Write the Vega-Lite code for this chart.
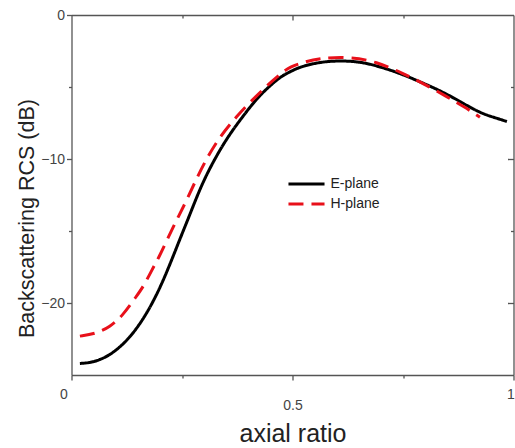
{
  "$schema": "https://vega.github.io/schema/vega-lite/v6.json",
  "width": 442,
  "height": 360,
  "autosize": {"type": "none"},
  "padding": {"left": 71.5, "top": 15, "right": 1.5, "bottom": 73},
  "background": "white",
  "config": {
    "view": {"stroke": null},
    "axis": {
      "domainColor": "#555555",
      "tickColor": "#555555",
      "tickWidth": 1.3,
      "domainWidth": 1.3,
      "labelColor": "#444444",
      "labelFont": "Liberation Sans",
      "titleFont": "Liberation Sans",
      "labelFontSize": 14,
      "grid": false,
      "titleFontWeight": "normal",
      "titleColor": "#222222"
    }
  },
  "data": {
    "values": [
      {"x": 0.019, "rcs": -24.2, "plane": "E-plane"},
      {"x": 0.042, "rcs": -24.15, "plane": "E-plane"},
      {"x": 0.064, "rcs": -23.95, "plane": "E-plane"},
      {"x": 0.087, "rcs": -23.6, "plane": "E-plane"},
      {"x": 0.11, "rcs": -23.05, "plane": "E-plane"},
      {"x": 0.133, "rcs": -22.35, "plane": "E-plane"},
      {"x": 0.156, "rcs": -21.4, "plane": "E-plane"},
      {"x": 0.178, "rcs": -20.3, "plane": "E-plane"},
      {"x": 0.201, "rcs": -18.9, "plane": "E-plane"},
      {"x": 0.223, "rcs": -17.3, "plane": "E-plane"},
      {"x": 0.246, "rcs": -15.5, "plane": "E-plane"},
      {"x": 0.266, "rcs": -14.0, "plane": "E-plane"},
      {"x": 0.285, "rcs": -12.5, "plane": "E-plane"},
      {"x": 0.308, "rcs": -10.9, "plane": "E-plane"},
      {"x": 0.346, "rcs": -8.8, "plane": "E-plane"},
      {"x": 0.381, "rcs": -7.3, "plane": "E-plane"},
      {"x": 0.419, "rcs": -5.8, "plane": "E-plane"},
      {"x": 0.446, "rcs": -5.0, "plane": "E-plane"},
      {"x": 0.472, "rcs": -4.3, "plane": "E-plane"},
      {"x": 0.494, "rcs": -3.95, "plane": "E-plane"},
      {"x": 0.517, "rcs": -3.6, "plane": "E-plane"},
      {"x": 0.562, "rcs": -3.26, "plane": "E-plane"},
      {"x": 0.607, "rcs": -3.17, "plane": "E-plane"},
      {"x": 0.653, "rcs": -3.24, "plane": "E-plane"},
      {"x": 0.698, "rcs": -3.59, "plane": "E-plane"},
      {"x": 0.743, "rcs": -4.05, "plane": "E-plane"},
      {"x": 0.788, "rcs": -4.63, "plane": "E-plane"},
      {"x": 0.834, "rcs": -5.25, "plane": "E-plane"},
      {"x": 0.879, "rcs": -6.0, "plane": "E-plane"},
      {"x": 0.924, "rcs": -6.8, "plane": "E-plane"},
      {"x": 0.955, "rcs": -7.1, "plane": "E-plane"},
      {"x": 0.985, "rcs": -7.4, "plane": "E-plane"},
      {"x": 0.019, "rcs": -22.3, "plane": "H-plane"},
      {"x": 0.053, "rcs": -22.15, "plane": "H-plane"},
      {"x": 0.087, "rcs": -21.67, "plane": "H-plane"},
      {"x": 0.117, "rcs": -20.83, "plane": "H-plane"},
      {"x": 0.144, "rcs": -19.65, "plane": "H-plane"},
      {"x": 0.162, "rcs": -18.9, "plane": "H-plane"},
      {"x": 0.182, "rcs": -17.7, "plane": "H-plane"},
      {"x": 0.2, "rcs": -16.7, "plane": "H-plane"},
      {"x": 0.218, "rcs": -15.5, "plane": "H-plane"},
      {"x": 0.24, "rcs": -14.1, "plane": "H-plane"},
      {"x": 0.261, "rcs": -12.85, "plane": "H-plane"},
      {"x": 0.291, "rcs": -10.8, "plane": "H-plane"},
      {"x": 0.329, "rcs": -8.7, "plane": "H-plane"},
      {"x": 0.374, "rcs": -7.0, "plane": "H-plane"},
      {"x": 0.419, "rcs": -5.6, "plane": "H-plane"},
      {"x": 0.446, "rcs": -4.8, "plane": "H-plane"},
      {"x": 0.472, "rcs": -4.1, "plane": "H-plane"},
      {"x": 0.494, "rcs": -3.6, "plane": "H-plane"},
      {"x": 0.528, "rcs": -3.25, "plane": "H-plane"},
      {"x": 0.562, "rcs": -3.0, "plane": "H-plane"},
      {"x": 0.63, "rcs": -2.9, "plane": "H-plane"},
      {"x": 0.69, "rcs": -3.24, "plane": "H-plane"},
      {"x": 0.75, "rcs": -4.05, "plane": "H-plane"},
      {"x": 0.795, "rcs": -4.74, "plane": "H-plane"},
      {"x": 0.849, "rcs": -5.67, "plane": "H-plane"},
      {"x": 0.89, "rcs": -6.4, "plane": "H-plane"},
      {"x": 0.924, "rcs": -7.1, "plane": "H-plane"}
    ]
  },
  "layer": [
    {
      "mark": {"type": "line", "strokeWidth": 3, "interpolate": "basis"},
      "encoding": {
        "x": {
          "field": "x", "type": "quantitative",
          "scale": {"domain": [0, 1], "nice": false},
          "axis": {
            "orient": "bottom",
            "title": "axial ratio",
            "titleFontSize": 25,
            "titleX": 221,
            "titleY": 58,
            "titleBaseline": "middle",
            "values": [0, 0.25, 0.5, 0.75, 1],
            "labelExpr": "datum.value == 0.25 || datum.value == 0.75 ? '' : datum.value == 0.5 ? '0.5' : format(datum.value, 'd')",
            "labelFlush": false,
            "labelOverlap": false,
            "tickSize": {"condition": {"test": "datum.value == 0.25 || datum.value == 0.75", "value": 3}, "value": 5},
            "labelPadding": {"condition": {"test": "datum.value == 0.5", "value": 18}, "value": 7},
            "labelOffset": {"condition": [{"test": "datum.value == 0", "value": -8}, {"test": "datum.value == 1", "value": -3}], "value": 0}
          }
        },
        "y": {
          "field": "rcs", "type": "quantitative",
          "scale": {"domain": [-25, 0], "nice": false},
          "axis": {
            "orient": "left",
            "title": "Backscattering RCS (dB)",
            "titleFontSize": 21.5,
            "titleX": -44,
            "titleY": 203,
            "titleBaseline": "middle",
            "values": [0, -5, -10, -15, -20],
            "labelExpr": "datum.value == -5 || datum.value == -15 ? '' : format(datum.value, 'd')",
            "labelOverlap": false,
            "labelFlush": false,
            "tickSize": {"condition": {"test": "datum.value == -5 || datum.value == -15", "value": 3}, "value": 5},
            "labelPadding": 2
          }
        },
        "color": {
          "field": "plane", "type": "nominal",
          "scale": {"domain": ["E-plane", "H-plane"], "range": ["#000000", "#e8101a"]},
          "legend": {
            "title": null,
            "orient": "none",
            "legendX": 215,
            "legendY": 159,
            "symbolType": "stroke",
            "symbolSize": 1300,
            "symbolStrokeWidth": 3,
            "clipHeight": 20,
            "labelFontSize": 14,
            "labelFont": "Liberation Sans",
            "labelColor": "#222222",
            "labelOffset": 4,
            "rowPadding": 0,
            "padding": 0
          }
        },
        "strokeDash": {
          "field": "plane", "type": "nominal",
          "scale": {"domain": ["E-plane", "H-plane"], "range": [[1, 0], [15, 8]]},
          "legend": {
            "title": null,
            "orient": "none",
            "legendX": 215,
            "legendY": 159,
            "symbolType": "stroke",
            "symbolSize": 1300,
            "symbolStrokeWidth": 3,
            "clipHeight": 20,
            "labelFontSize": 14,
            "labelFont": "Liberation Sans",
            "labelColor": "#222222",
            "labelOffset": 4,
            "rowPadding": 0,
            "padding": 0
          }
        }
      }
    },
    {
      "mark": {"type": "point", "opacity": 0},
      "encoding": {
        "x": {
          "field": "x", "type": "quantitative",
          "axis": {
            "orient": "top", "title": null, "labels": false,
            "values": [0.25, 0.5, 0.75],
            "tickSize": {"condition": {"test": "datum.value == 0.5", "value": -5}, "value": -3}
          }
        },
        "y": {
          "field": "rcs", "type": "quantitative",
          "axis": {
            "orient": "right", "title": null, "labels": false,
            "values": [-5, -10, -15, -20],
            "tickSize": {"condition": {"test": "datum.value == -5 || datum.value == -15", "value": -3}, "value": -6}
          }
        }
      }
    }
  ],
  "resolve": {"axis": {"x": "independent", "y": "independent"}}
}
